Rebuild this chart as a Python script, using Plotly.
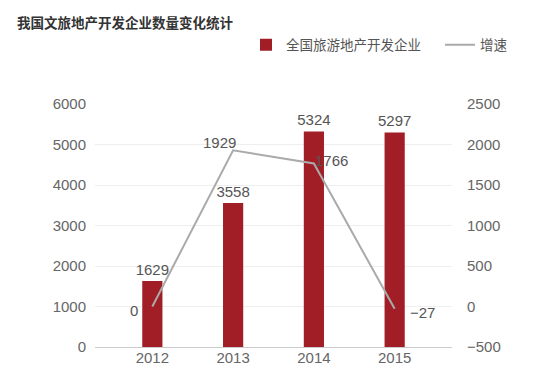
import plotly.graph_objects as go

years = ["2012", "2013", "2014", "2015"]
companies = [1629, 3558, 5324, 5297]
growth = [0, 1929, 1766, -27]
growth_label_shift = [(-18, -4), (-14, 8), (18, 3), (28, -4)]

FONT = "Liberation Sans, Noto Sans CJK SC, sans-serif"

fig = go.Figure()
fig.add_trace(go.Bar(
    x=years, y=companies, name="全国旅游地产开发企业",
    marker=dict(color="#a21e26", line=dict(width=0)),
    text=[str(v) for v in companies], textposition="outside",
    constraintext="none",
    textfont=dict(size=15, color="#555555", family=FONT),
    cliponaxis=False, yaxis="y", legend="legend",
))
fig.add_trace(go.Scatter(
    x=years, y=growth, name="增速", mode="lines",
    line=dict(color="#aaaaaa", width=2),
    cliponaxis=False, yaxis="y2", legend="legend2",
))

for i, (g, (dx, dy)) in enumerate(zip(growth, growth_label_shift)):
    fig.add_annotation(x=i, y=g, xref="x", yref="y2", text=str(g).replace("-", "−"),
                       showarrow=False, xshift=dx, yshift=dy,
                       font=dict(size=15, color="#555555", family=FONT))

W, H = 559, 390
L, R, T, B = 95, 107, 104, 43
pw, ph = W - L - R, H - T - B

def px_x(x):
    return (x - L) / pw

def px_y(y):
    return (H - B - y) / ph

legend_font = dict(size=13.5, color="#555555", family="Noto Sans CJK SC")

fig.update_layout(
    width=W, height=H,
    margin=dict(l=L, r=R, t=T, b=B, autoexpand=False),
    paper_bgcolor="white", plot_bgcolor="white",
    font=dict(family=FONT, color="#666666", size=15),
    bargap=0.75,
    showlegend=True,
    legend=dict(orientation="h", x=px_x(246), y=px_y(45),
                xanchor="left", yanchor="middle", font=legend_font,
                itemwidth=30, bgcolor="rgba(0,0,0,0)"),
    legend2=dict(orientation="h", x=px_x(440), y=px_y(45),
                 xanchor="left", yanchor="middle", font=legend_font,
                 itemwidth=30, bgcolor="rgba(0,0,0,0)"),
    title=dict(text="<b>我国文旅地产开发企业数量变化统计</b>", x=17 / W, xanchor="left",
               xref="container", yref="container",
               y=1 - 23 / H, yanchor="middle", pad=dict(l=0, r=0, t=0, b=0),
               font=dict(size=13.5, color="#333333", family="Noto Sans CJK SC")),
    xaxis=dict(type="category", range=[-0.71, 3.71], showgrid=False,
               showline=False, ticks="", tickfont=dict(size=15, color="#666666")),
    yaxis=dict(range=[0, 6000], dtick=1000, showgrid=True, gridcolor="#eeeeee",
               zeroline=True, zerolinecolor="#cccccc", zerolinewidth=1,
               ticks="", tickfont=dict(size=15, color="#666666"), ticklabelstandoff=8),
    yaxis2=dict(range=[-500, 2500], dtick=500, overlaying="y", side="right",
                showgrid=False, zeroline=False, ticks="",
                tickfont=dict(size=15, color="#666666"), ticklabelstandoff=14),
)

fig.write_html("out.html", config={"displayModeBar": False},
               post_script="document.body.style.margin='0';document.body.style.padding='0';")
